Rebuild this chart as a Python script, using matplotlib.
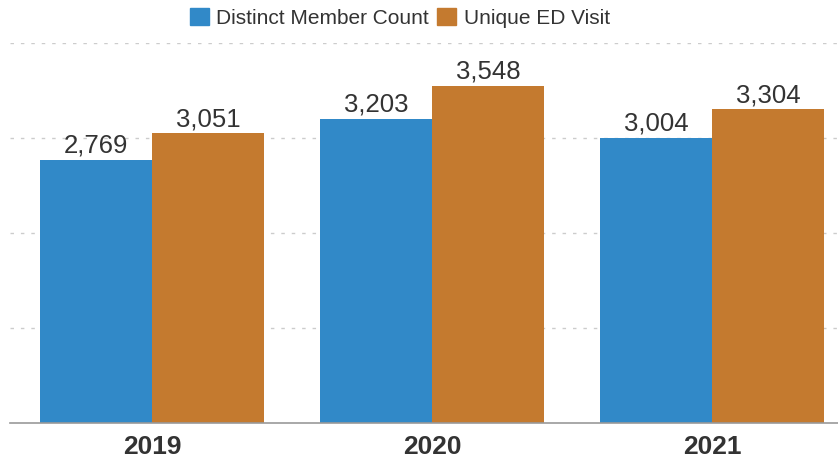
import matplotlib.pyplot as plt
import numpy as np
from matplotlib.patches import Patch

plt.rcParams['font.family'] = ['Liberation Sans', 'DejaVu Sans']

years = ["2019", "2020", "2021"]
members = [2769, 3203, 3004]
visits = [3051, 3548, 3304]
series_names = ["Distinct Member Count", "Unique ED Visit"]

blue = "#3189c8"
orange = "#c47a2f"
text_col = "#333333"

fig = plt.figure(figsize=(8.38, 4.59), dpi=100)
ax = fig.add_axes([10 / 838, 36 / 459, 828 / 838, 380 / 459])

x = np.arange(len(years))
w = 0.4
b1 = ax.bar(x - w / 2, members, w, color=blue, zorder=2)
b2 = ax.bar(x + w / 2, visits, w, color=orange, zorder=2)

for bars in (b1, b2):
    ax.bar_label(bars, labels=[f"{v.get_height():,.0f}" for v in bars], padding=1.5,
                 fontsize=18.5, color=text_col)

ax.set_xlim(-0.507, 2.45)
ax.set_ylim(0, 4000)
ax.set_yticks([1000, 2000, 3000, 4000])
ax.yaxis.grid(True, color="#cccccc", linestyle=(0, (2.5, 5)), linewidth=1, zorder=0)
ax.tick_params(axis="y", left=False, labelleft=False)
ax.set_xticks(x)
ax.set_xticklabels(years, fontsize=19, fontweight="bold", color=text_col)
ax.tick_params(axis="x", length=0, pad=9)

for s in ("top", "right", "left"):
    ax.spines[s].set_visible(False)
ax.spines["bottom"].set_color("#999999")
ax.spines["bottom"].set_linewidth(1.2)

handles = [Patch(color=blue), Patch(color=orange)]
fig.legend(handles, series_names, loc="center", bbox_to_anchor=(400 / 838, 1 - 18 / 459),
           ncol=2, frameon=False, fontsize=15, handlelength=0.9, handleheight=0.9,
           handletextpad=0.35, columnspacing=0.4, labelcolor=text_col)

fig.savefig("out.png", dpi=100)
